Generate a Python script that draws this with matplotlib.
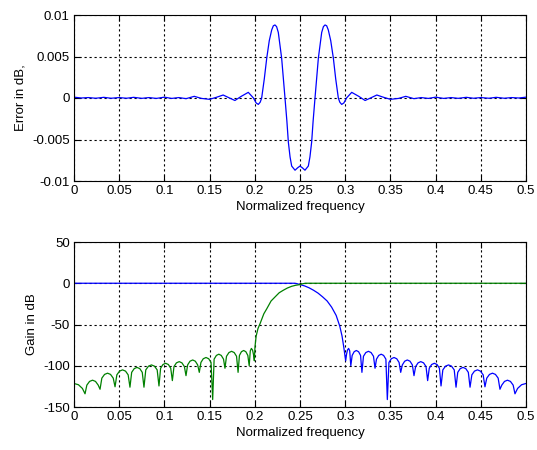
import matplotlib
matplotlib.use("Agg")
import matplotlib.pyplot as plt

plt.rcParams['font.family'] = ['Liberation Sans', 'DejaVu Sans']

# ---------------- data ----------------
err_f = [0.000, 0.008, 0.016, 0.024, 0.033, 0.041, 0.050, 0.058, 0.066, 0.075,
         0.083, 0.091, 0.100, 0.108, 0.116, 0.124, 0.133, 0.141, 0.150, 0.158,
         0.165, 0.172, 0.178, 0.185, 0.1928, 0.1985, 0.2015, 0.2039, 0.2060, 0.2076,
         0.2105, 0.2132, 0.2160, 0.2187, 0.2205, 0.2223, 0.2241, 0.2260, 0.2297, 0.2334,
         0.2355, 0.2371, 0.2390, 0.2408, 0.2445, 0.2475, 0.2500, 0.2525, 0.2555, 0.2592,
         0.2610, 0.2629, 0.2645, 0.2666, 0.2703, 0.2740, 0.2759, 0.2777, 0.2795, 0.2813,
         0.2840, 0.2869, 0.2895, 0.2924, 0.2940, 0.2961, 0.2985, 0.3015, 0.3072, 0.315,
         0.322, 0.328, 0.335, 0.342, 0.350, 0.359, 0.367, 0.376, 0.384, 0.392,
         0.400, 0.409, 0.417, 0.425, 0.434, 0.442, 0.450, 0.459, 0.467, 0.476,
         0.484, 0.492, 0.500]
err_db = [0.0001, 0.0, 0.00005, -0.00003, 0.00008, -0.00003, 0.00005, -0.00003, 0.00008, -0.00004,
          0.00005, -0.00005, 0.0001, -0.00005, 0.00005, -0.00008, 0.0002, -0.00005, -0.00016, 0.0001,
          0.00036, 0.0, -0.0003, 0.0002, 0.00068, 0.0, -0.0006, -0.00077, -0.0005, 0.0,
          0.0023, 0.0048, 0.0069, 0.0082, 0.0087, 0.0088, 0.0086, 0.0079, 0.0048, 0.0,
          -0.0028, -0.0053, -0.0071, -0.0082, -0.0087, -0.0084, -0.0082, -0.0084, -0.0087, -0.0082,
          -0.0071, -0.0053, -0.0028, 0.0, 0.0048, 0.0079, 0.0086, 0.0088, 0.0087, 0.0082,
          0.0069, 0.0048, 0.0023, 0.0, -0.0005, -0.00077, -0.0006, 0.0, 0.00068, 0.0002,
          -0.0003, 0.0, 0.00036, 0.0001, -0.00016, -0.00005, 0.0002, -0.00008, 0.00005, -0.00005,
          0.0001, -0.00005, 0.00005, -0.00004, 0.00008, -0.00003, 0.00005, -0.00003, 0.00008, -0.00003,
          0.00005, 0.0, 0.0001]

# Highpass-like (green) response
green_f = [0.0000, 0.0049, 0.0093, 0.0122, 0.0142, 0.0172, 0.0205, 0.0238, 0.0268, 0.0288,
           0.0308, 0.0338, 0.0371, 0.0404, 0.0434, 0.0454, 0.0474, 0.0504, 0.0537, 0.0570,
           0.0599, 0.0619, 0.0638, 0.0666, 0.0697, 0.0728, 0.0755, 0.0774, 0.0794, 0.0824,
           0.0857, 0.0890, 0.0920, 0.0940, 0.0958, 0.0984, 0.1014, 0.1044, 0.1070, 0.1088,
           0.1106, 0.1133, 0.1164, 0.1194, 0.1221, 0.1239, 0.1257, 0.1283, 0.1313, 0.1342,
           0.1368, 0.1386, 0.1404, 0.1430, 0.1460, 0.1490, 0.1516, 0.1534, 0.1550, 0.1575,
           0.1602, 0.1629, 0.1654, 0.1670, 0.1687, 0.1714, 0.1743, 0.1772, 0.1798, 0.1815,
           0.1830, 0.1852, 0.1877, 0.1901, 0.1923, 0.1938, 0.1950, 0.1962, 0.1975, 0.1985,
           0.1995, 0.2002, 0.2015, 0.2035, 0.2058, 0.2100, 0.2132, 0.2180, 0.2223, 0.2270,
           0.2315, 0.2360, 0.2408, 0.2450, 0.2500, 0.2530, 0.2560, 0.5000]
green_db = [-121.5, -123, -127.5, -134, -123.5, -119, -117.5, -119, -123.5, -128.5,
            -115, -110.5, -109, -110.5, -115, -125.5, -111, -106.5, -105, -106.5,
            -111, -126, -108, -103.5, -102, -103.5, -108, -126, -105, -100.5,
            -99, -100.5, -105, -124.5, -103, -98.5, -97, -98.5, -103, -118,
            -101, -96.5, -95, -96.5, -101, -112, -99, -94.5, -93, -94.5,
            -99, -108, -96, -91.5, -90, -91.5, -96, -141, -92, -87.5,
            -86, -87.5, -92, -103, -88.5, -84, -82.5, -84, -88.5, -108,
            -87.5, -83, -81.5, -83, -87.5, -100, -82, -79, -81, -86,
            -94, -77, -64, -55, -49, -37, -31, -21.5, -16.7, -11.5,
            -8.5, -5.8, -3.7, -2.5, -1.6, -0.6, 0.0, 0.0]

# Lowpass-like (blue) response
blue_f = [0.0000, 0.2440, 0.2470, 0.2500, 0.2550, 0.2600, 0.2650, 0.2700, 0.2750, 0.2800,
          0.2850, 0.2900, 0.2940, 0.2965, 0.2985, 0.3005, 0.3015, 0.3025, 0.3038, 0.3050,
          0.3062, 0.3077, 0.3099, 0.3123, 0.3148, 0.3170, 0.3185, 0.3202, 0.3228, 0.3257,
          0.3286, 0.3313, 0.3330, 0.3346, 0.3371, 0.3398, 0.3425, 0.3450, 0.3466, 0.3484,
          0.3510, 0.3540, 0.3570, 0.3596, 0.3614, 0.3632, 0.3658, 0.3687, 0.3717, 0.3743,
          0.3761, 0.3779, 0.3806, 0.3836, 0.3867, 0.3894, 0.3912, 0.3930, 0.3956, 0.3986,
          0.4016, 0.4042, 0.4060, 0.4080, 0.4110, 0.4143, 0.4176, 0.4206, 0.4226, 0.4245,
          0.4272, 0.4303, 0.4334, 0.4362, 0.4381, 0.4401, 0.4430, 0.4463, 0.4496, 0.4526,
          0.4546, 0.4566, 0.4596, 0.4629, 0.4662, 0.4692, 0.4712, 0.4732, 0.4762, 0.4795,
          0.4828, 0.4858, 0.4878, 0.4907, 0.4951, 0.5000]
blue_db = [0.0, 0.0, -0.6, -1.6, -3.2, -5.5, -8.5, -12, -16.5, -21.5,
           -29, -39, -52, -64, -78, -94, -86, -81, -79, -82,
           -100, -87.5, -83, -81.5, -83, -87.5, -108, -88.5, -84, -82.5,
           -84, -88.5, -103, -92, -87.5, -86, -87.5, -92, -141, -96,
           -91.5, -90, -91.5, -96, -108, -99, -94.5, -93, -94.5, -99,
           -112, -101, -96.5, -95, -96.5, -101, -118, -103, -98.5, -97,
           -98.5, -103, -124.5, -105, -100.5, -99, -100.5, -105, -126, -108,
           -103.5, -102, -103.5, -108, -126, -111, -106.5, -105, -106.5, -111,
           -125.5, -115, -110.5, -109, -110.5, -115, -128.5, -123.5, -119, -117.5,
           -119, -123.5, -134, -127.5, -123, -121.5]

x_ticks = [0, 0.05, 0.1, 0.15, 0.2, 0.25, 0.3, 0.35, 0.4, 0.45, 0.5]
x_ticklabels = ['0', '0.05', '0.1', '0.15', '0.2', '0.25', '0.3', '0.35', '0.4', '0.45', '0.5']
err_ticks = [-0.01, -0.005, 0, 0.005, 0.01]
err_ticklabels = ['-0.01', '-0.005', '0', '0.005', '0.01']
gain_ticks = [-150, -100, -50, 0, 50]
gain_ticklabels = ['-150', '-100', '-50', '0', '50']

# ---------------- figure ----------------
W, H = 537, 450
fig = plt.figure(figsize=(W / 100, H / 100), dpi=100)
fig.patch.set_facecolor('white')

ax1 = fig.add_axes([74 / W, 1 - 181 / H, 452 / W, 166 / H])
ax2 = fig.add_axes([74 / W, 1 - 407 / H, 452 / W, 165 / H])

BLUE = '#0000ff'
GREEN = '#008000'
FS = 9.5

def style(ax, yticks, ylabels, ylim, ylab):
    ax.set_xlim(0, 0.5)
    ax.set_ylim(*ylim)
    ax.set_xticks(x_ticks)
    ax.set_xticklabels(x_ticklabels, fontsize=FS)
    ax.set_yticks(yticks)
    ax.set_yticklabels(ylabels, fontsize=FS)
    ax.tick_params(direction='in', length=4, width=0.8, top=True, right=True,
                   pad=3, colors='black')
    ax.grid(True, color='black', linestyle=(0, (2, 2.5)), linewidth=0.8)
    for s in ax.spines.values():
        s.set_linewidth(0.8)
        s.set_color('black')
    ax.set_xlabel('Normalized frequency', fontsize=FS, labelpad=3)
    ax.set_ylabel(ylab, fontsize=FS, labelpad=4)
    ax.set_axisbelow(True)

ax1.plot(err_f, err_db, color=BLUE, linewidth=0.9)
style(ax1, err_ticks, err_ticklabels, (-0.01, 0.01), 'Error in dB,')

ax2.plot(blue_f, blue_db, color=BLUE, linewidth=0.9)
ax2.plot(green_f, green_db, color=GREEN, linewidth=0.9)
style(ax2, gain_ticks, gain_ticklabels, (-150, 50), 'Gain in dB')

fig.savefig('out.png', dpi=100, facecolor='white')
